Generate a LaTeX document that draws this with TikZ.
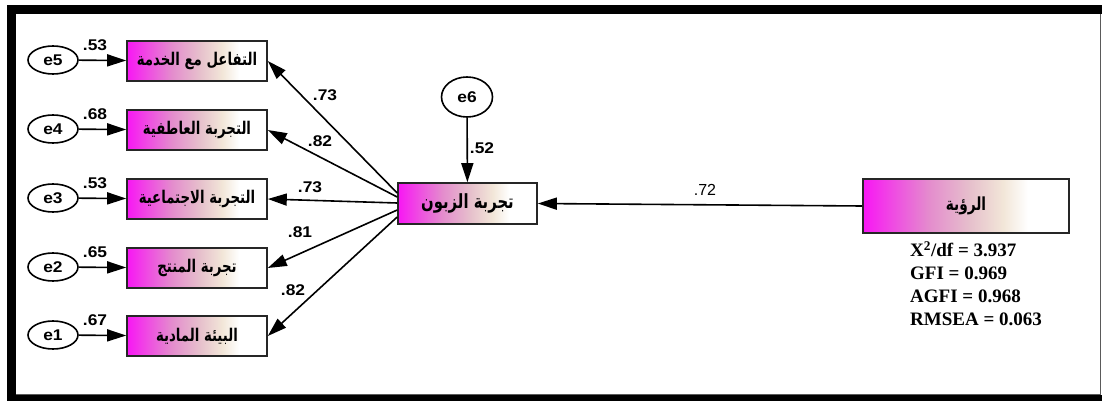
\documentclass[tikz,border=0pt]{standalone}
\usepackage{fontspec}
\setmainfont{Liberation Sans}
\newfontfamily\arabicfont[Script=Arabic,FakeStretch=0.76]{DejaVu Sans}
\newfontfamily\labfont[FakeStretch=1.12]{Liberation Sans}
\newfontfamily\seriffont{Liberation Serif}
\TeXXeTstate=1
\usetikzlibrary{arrows.meta,shapes.geometric}

% colours of the variable boxes
\definecolor{vmag}{RGB}{248,22,244}
\definecolor{vpink}{RGB}{228,140,205}
\definecolor{vmauve}{RGB}{230,192,204}
\definecolor{vbeige}{RGB}{242,230,216}
\definecolor{framegray}{RGB}{90,90,90}

% left-to-right fill of the variable boxes
\pgfdeclarehorizontalshading{vargrad}{100bp}{%
  color(0bp)=(vmag); color(25bp)=(vmag); color(41bp)=(vpink);
  color(51bp)=(vmauve); color(59bp)=(vbeige); color(65bp)=(white);
  color(100bp)=(white)}

\tikzset{
  varbox/.style={draw=black!85, line width=1.6pt, shading=vargrad,
    minimum width=140pt, minimum height=40pt, inner sep=0pt,
    font=\arabicfont\bfseries\fontsize{17.5}{20}\selectfont},
  errnode/.style={draw, ellipse, line width=1.6pt, fill=white,
    minimum width=50pt, minimum height=28pt, inner sep=0pt,
    font=\labfont\bfseries\fontsize{15.5}{18}\selectfont},
  arr/.style={draw, line width=1.6pt, -{Triangle[length=19pt,width=12pt]}},
  coef/.style={font=\labfont\bfseries\fontsize{15.5}{18}\selectfont, inner sep=0pt},
}

\begin{document}
\begin{tikzpicture}[x=1pt,y=-1pt]
\useasboundingbox (0,0) rectangle (1102,401);

% frame
\fill[black] (7,5) rectangle (1102,401);
\fill[white] (16,14) rectangle (1102,395);
\draw[framegray, line width=1pt] (1100,14) -- (1100,394.5) -- (16,394.5);

% measurement boxes
\node[varbox] (b5) at (197,61)  {\beginR التفاعل مع الخدمة\endR};
\node[varbox] (b4) at (197,130) {\beginR التجربة العاطفية\endR};
\node[varbox] (b3) at (197,199) {\beginR التجربة الاجتماعية\endR};
\node[varbox] (b2) at (197,268) {\beginR تجربة المنتج\endR};
\node[varbox] (b1) at (197,336) {\beginR البيئة المادية\endR};

% error terms
\node[errnode] (e5) at (53,60)  {e5};
\node[errnode] (e4) at (53,129) {e4};
\node[errnode] (e3) at (53,198) {e3};
\node[errnode] (e2) at (53,267) {e2};
\node[errnode] (e1) at (53,335) {e1};

% latent variables
\node[varbox, minimum width=139pt, minimum height=41pt,
      font=\arabicfont\bfseries\fontsize{19.5}{22}\selectfont] (cx) at (467.5,203.5) {\beginR تجربة الزبون\endR};
\node[varbox, minimum width=206pt, minimum height=54pt,
      font=\arabicfont\bfseries\fontsize{18}{20}\selectfont] (vis) at (966,206) {\beginR الرؤية\endR};
\node[errnode, minimum width=51pt, minimum height=40pt] (e6) at (467,97) {e6};

% fit indices
\node[anchor=north west, align=left, inner sep=0pt,
      font=\seriffont\bfseries\fontsize{19}{23}\selectfont] (fit) at (910,241)
  {X\textsuperscript{2}/df = 3.937\\ GFI = 0.969\\ AGFI = 0.968\\ RMSEA = 0.063};

% error paths
\foreach \i in {1,...,5} \draw[arr] (e\i) -- (b\i);
\draw[arr] (e6) -- (cx);

% structural and loading paths (yshift is upward on the canvas)
\draw[arr] (vis.west) -- (cx.east);
\draw[arr] ([yshift=10.5pt]cx.west)  -- (b5.east);
\draw[arr] ([yshift=6.5pt]cx.west)   -- (b4.east);
\draw[arr] ([yshift=0.5pt]cx.west)   -- (b3.east);
\draw[arr] ([yshift=-6.5pt]cx.west)  -- (b2.east);
\draw[arr] ([yshift=-13.5pt]cx.west) -- (b1.east);

% coefficients
\node[coef] (r5) at (95,45)  {.53};
\node[coef] (r4) at (95,114) {.68};
\node[coef] (r3) at (95,183) {.53};
\node[coef] (r2) at (95,252) {.65};
\node[coef] (r1) at (95,320) {.67};
\node[coef] (r6) at (482,148) {.52};
\node[coef] (l5) at (325,95)  {.73};
\node[coef] (l4) at (320,141) {.82};
\node[coef] (l3) at (310,187) {.73};
\node[coef] (l2) at (300,232) {.81};
\node[coef] (l1) at (293,290) {.82};
\node[font=\fontsize{16}{18}\selectfont, inner sep=0pt] (gv) at (705,190) {.72};
\end{tikzpicture}
\end{document}
